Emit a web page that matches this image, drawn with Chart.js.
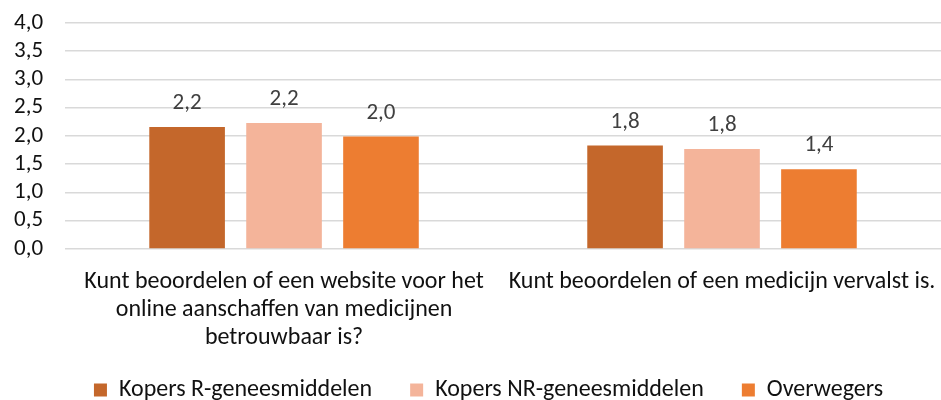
<!DOCTYPE html>
<html>
<head>
<meta charset="utf-8">
<script src="https://cdn.jsdelivr.net/npm/chart.js@4/dist/chart.umd.min.js"></script>
<style>
  html, body { margin: 0; padding: 0; background: #fff; }
  #wrap { width: 941px; height: 400px; position: relative; }
</style>
</head>
<body>
<div id="wrap"><canvas id="c"></canvas></div>
<script>
const categories = [
  ["Kunt beoordelen of een website voor het", "online aanschaffen van medicijnen", "betrouwbaar is?"],
  "Kunt beoordelen of een medicijn vervalst is."
];
const seriesNames = ["Kopers R-geneesmiddelen", "Kopers NR-geneesmiddelen", "Overwegers"];
const kopersR = [2.16, 1.83];
const kopersNR = [2.23, 1.77];
const overwegers = [1.99, 1.41];
const yTicks = [0, 0.5, 1, 1.5, 2, 2.5, 3, 3.5, 4];
const colors = ["#C4672B", "#F4B49A", "#ED7D31"];

const FONT = "Carlito, Lato, sans-serif";
const fmt = v => v.toFixed(1).replace('.', ',');

const dataLabels = {
  id: 'dataLabels',
  afterDatasetsDraw(chart) {
    const ctx = chart.ctx;
    ctx.save();
    ctx.font = "23px " + FONT;
    ctx.fillStyle = "#404040";
    ctx.textAlign = "center";
    ctx.textBaseline = "alphabetic";
    chart.data.datasets.forEach((ds, i) => {
      const meta = chart.getDatasetMeta(i);
      meta.data.forEach((el, j) => {
        ctx.fillText(fmt(ds.data[j]), el.x, el.y - 18);
      });
    });
    ctx.restore();
  }
};

const legendSpacing = {
  id: 'legendSpacing',
  beforeLayout(chart) {
    const lg = chart.legend;
    if (!lg || lg._patched) return;
    lg._patched = true;
    const fit = lg.fit;
    lg.fit = function () { fit.call(this); this.height = 29; };
    const draw = lg.draw;
    lg.draw = function () {
      const t = this.top, l = this.left, r = this.right;
      this.top = t + 7 - this.options.labels.padding;
      this.left = l + 11; this.right = r + 11;
      draw.call(this);
      this.top = t; this.left = l; this.right = r;
    };
  }
};

new Chart(document.getElementById('c'), {
  type: 'bar',
  data: {
    labels: categories,
    datasets: [
      { label: seriesNames[0], data: kopersR, backgroundColor: colors[0] },
      { label: seriesNames[1], data: kopersNR, backgroundColor: colors[1] },
      { label: seriesNames[2], data: overwegers, backgroundColor: colors[2] }
    ]
  },
  options: {
    responsive: true,
    maintainAspectRatio: false,
    animation: false,
    layout: { padding: { top: 23, left: 14, right: 0, bottom: 0 } },
    datasets: { bar: { categoryPercentage: 0.664, barPercentage: 0.78 } },
    plugins: {
      legend: {
        position: 'bottom',
        labels: {
          boxWidth: 13, boxHeight: 13, padding: 38,
          color: "#111",
          font: { family: FONT, size: 24 }
        }
      },
      tooltip: { enabled: false }
    },
    scales: {
      x: {
        grid: { display: false, drawTicks: false },
        border: { display: false },
        afterFit(scale) { scale.paddingLeft = 0; scale.paddingRight = 0; },
        ticks: {
          color: "#111", padding: 19, maxRotation: 0, autoSkip: false,
          font: { family: FONT, size: 24, lineHeight: 1.1667 }
        }
      },
      y: {
        min: 0, max: 4,
        afterBuildTicks(scale) { scale.ticks = yTicks.map(v => ({ value: v })); },
        afterFit(scale) { scale.width -= 22; scale.paddingTop = 0; scale.paddingBottom = 0; },
        grid: { color: "#d9d9d9", lineWidth: 1.5, drawTicks: false },
        border: { display: false },
        ticks: {
          color: "#111", padding: 22, autoSkip: false, stepSize: 0.5,
          font: { family: FONT, size: 23 },
          callback: v => fmt(v)
        }
      }
    }
  },
  plugins: [dataLabels, legendSpacing]
});
</script>
</body>
</html>
